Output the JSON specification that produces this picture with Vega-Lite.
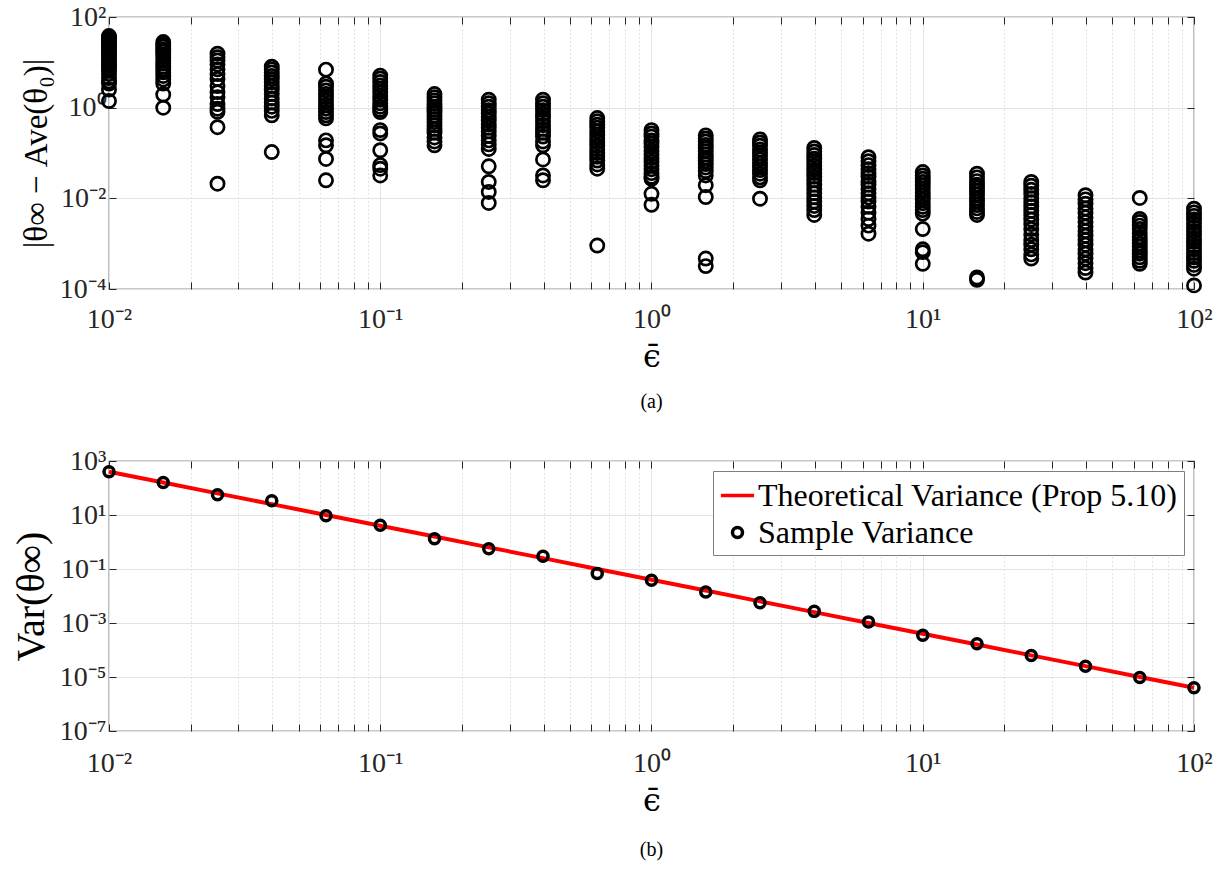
{
"$schema": "https://vega.github.io/schema/vega-lite/v6.json",
"padding": {"left": 10, "top": 2, "right": 10, "bottom": 2},
"config": {
 "font": "Liberation Serif",
 "view": {"stroke": "#262626", "strokeWidth": 1.2},
 "axis": {"labelFont": "Liberation Serif", "titleFont": "Liberation Serif", "labelColor": "#262626", "titleColor": "#000000", "titleFontWeight": "normal", "tickColor": "#262626", "labelOverlap": false, "labelFlush": false},
 "legend": {"labelFont": "Liberation Serif", "labelLimit": 1000}
},
"resolve": {"scale": {"color": "independent", "shape": "independent"}, "legend": {"color": "independent", "shape": "independent"}},
"datasets": {
"a": [
{"e":0.01,"d":38},{"e":0.01,"d":36},{"e":0.01,"d":33},{"e":0.01,"d":30},{"e":0.01,"d":27},{"e":0.01,"d":25},{"e":0.01,"d":22},{"e":0.01,"d":20},{"e":0.01,"d":18},{"e":0.01,"d":16},{"e":0.01,"d":14},{"e":0.01,"d":12.5},{"e":0.01,"d":11},{"e":0.01,"d":9.5},{"e":0.01,"d":8.5},{"e":0.01,"d":7.5},{"e":0.01,"d":6.5},{"e":0.01,"d":5.5},{"e":0.01,"d":4.5},{"e":0.01,"d":3.8},{"e":0.01,"d":3.4},{"e":0.01,"d":2.5},{"e":0.01,"d":1.4},
{"e":0.015849,"d":28},{"e":0.015849,"d":25},{"e":0.015849,"d":22},{"e":0.015849,"d":19},{"e":0.015849,"d":17},{"e":0.015849,"d":15},{"e":0.015849,"d":13},{"e":0.015849,"d":11},{"e":0.015849,"d":9.5},{"e":0.015849,"d":8},{"e":0.015849,"d":7},{"e":0.015849,"d":6},{"e":0.015849,"d":5},{"e":0.015849,"d":4.2},{"e":0.015849,"d":3.4},{"e":0.015849,"d":1.95},{"e":0.015849,"d":1.0},
{"e":0.025119,"d":15.5},{"e":0.025119,"d":13},{"e":0.025119,"d":11},{"e":0.025119,"d":9},{"e":0.025119,"d":7},{"e":0.025119,"d":5.5},{"e":0.025119,"d":4.3},{"e":0.025119,"d":3},{"e":0.025119,"d":2.2},{"e":0.025119,"d":1.7},{"e":0.025119,"d":1.2},{"e":0.025119,"d":0.95},{"e":0.025119,"d":0.81},{"e":0.025119,"d":0.37},{"e":0.025119,"d":0.021},
{"e":0.039811,"d":8},{"e":0.039811,"d":7},{"e":0.039811,"d":6},{"e":0.039811,"d":5},{"e":0.039811,"d":4.3},{"e":0.039811,"d":3.6},{"e":0.039811,"d":3},{"e":0.039811,"d":2.5},{"e":0.039811,"d":2},{"e":0.039811,"d":1.6},{"e":0.039811,"d":1.3},{"e":0.039811,"d":1.05},{"e":0.039811,"d":0.85},{"e":0.039811,"d":0.68},{"e":0.039811,"d":0.105},
{"e":0.063096,"d":6.9},{"e":0.063096,"d":3.4},{"e":0.063096,"d":2.9},{"e":0.063096,"d":2.4},{"e":0.063096,"d":2.0},{"e":0.063096,"d":1.7},{"e":0.063096,"d":1.4},{"e":0.063096,"d":1.15},{"e":0.063096,"d":0.95},{"e":0.063096,"d":0.8},{"e":0.063096,"d":0.68},{"e":0.063096,"d":0.58},{"e":0.063096,"d":0.19},{"e":0.063096,"d":0.148},{"e":0.063096,"d":0.074},{"e":0.063096,"d":0.025},
{"e":0.1,"d":5.1},{"e":0.1,"d":4.4},{"e":0.1,"d":3.7},{"e":0.1,"d":3.1},{"e":0.1,"d":2.6},{"e":0.1,"d":2.2},{"e":0.1,"d":1.8},{"e":0.1,"d":1.5},{"e":0.1,"d":1.25},{"e":0.1,"d":1.05},{"e":0.1,"d":0.9},{"e":0.1,"d":0.8},{"e":0.1,"d":0.32},{"e":0.1,"d":0.27},{"e":0.1,"d":0.115},{"e":0.1,"d":0.054},{"e":0.1,"d":0.045},{"e":0.1,"d":0.032},
{"e":0.15849,"d":2.0},{"e":0.15849,"d":1.7},{"e":0.15849,"d":1.45},{"e":0.15849,"d":1.25},{"e":0.15849,"d":1.05},{"e":0.15849,"d":0.9},{"e":0.15849,"d":0.78},{"e":0.15849,"d":0.66},{"e":0.15849,"d":0.56},{"e":0.15849,"d":0.48},{"e":0.15849,"d":0.41},{"e":0.15849,"d":0.34},{"e":0.15849,"d":0.28},{"e":0.15849,"d":0.22},{"e":0.15849,"d":0.18},{"e":0.15849,"d":0.148},
{"e":0.25119,"d":1.5},{"e":0.25119,"d":1.25},{"e":0.25119,"d":1.05},{"e":0.25119,"d":0.88},{"e":0.25119,"d":0.74},{"e":0.25119,"d":0.62},{"e":0.25119,"d":0.52},{"e":0.25119,"d":0.43},{"e":0.25119,"d":0.36},{"e":0.25119,"d":0.3},{"e":0.25119,"d":0.24},{"e":0.25119,"d":0.19},{"e":0.25119,"d":0.155},{"e":0.25119,"d":0.123},{"e":0.25119,"d":0.051},{"e":0.25119,"d":0.023},{"e":0.25119,"d":0.0138},{"e":0.25119,"d":0.0079},
{"e":0.39811,"d":1.5},{"e":0.39811,"d":1.25},{"e":0.39811,"d":1.05},{"e":0.39811,"d":0.88},{"e":0.39811,"d":0.72},{"e":0.39811,"d":0.6},{"e":0.39811,"d":0.5},{"e":0.39811,"d":0.41},{"e":0.39811,"d":0.34},{"e":0.39811,"d":0.28},{"e":0.39811,"d":0.23},{"e":0.39811,"d":0.18},{"e":0.39811,"d":0.148},{"e":0.39811,"d":0.072},{"e":0.39811,"d":0.032},{"e":0.39811,"d":0.025},
{"e":0.63096,"d":0.59},{"e":0.63096,"d":0.5},{"e":0.63096,"d":0.42},{"e":0.63096,"d":0.36},{"e":0.63096,"d":0.3},{"e":0.63096,"d":0.25},{"e":0.63096,"d":0.21},{"e":0.63096,"d":0.175},{"e":0.63096,"d":0.145},{"e":0.63096,"d":0.12},{"e":0.63096,"d":0.1},{"e":0.63096,"d":0.083},{"e":0.63096,"d":0.068},{"e":0.63096,"d":0.056},{"e":0.63096,"d":0.045},{"e":0.63096,"d":0.00091},
{"e":1,"d":0.32},{"e":1,"d":0.27},{"e":1,"d":0.23},{"e":1,"d":0.19},{"e":1,"d":0.16},{"e":1,"d":0.135},{"e":1,"d":0.11},{"e":1,"d":0.093},{"e":1,"d":0.077},{"e":1,"d":0.064},{"e":1,"d":0.053},{"e":1,"d":0.044},{"e":1,"d":0.036},{"e":1,"d":0.03},{"e":1,"d":0.027},{"e":1,"d":0.0126},{"e":1,"d":0.0072},
{"e":1.5849,"d":0.245},{"e":1.5849,"d":0.21},{"e":1.5849,"d":0.18},{"e":1.5849,"d":0.15},{"e":1.5849,"d":0.13},{"e":1.5849,"d":0.11},{"e":1.5849,"d":0.093},{"e":1.5849,"d":0.079},{"e":1.5849,"d":0.067},{"e":1.5849,"d":0.057},{"e":1.5849,"d":0.048},{"e":1.5849,"d":0.04},{"e":1.5849,"d":0.032},{"e":1.5849,"d":0.0195},{"e":1.5849,"d":0.0107},{"e":1.5849,"d":0.00047},{"e":1.5849,"d":0.00032},
{"e":2.5119,"d":0.2},{"e":2.5119,"d":0.17},{"e":2.5119,"d":0.145},{"e":2.5119,"d":0.12},{"e":2.5119,"d":0.1},{"e":2.5119,"d":0.085},{"e":2.5119,"d":0.072},{"e":2.5119,"d":0.06},{"e":2.5119,"d":0.05},{"e":2.5119,"d":0.042},{"e":2.5119,"d":0.035},{"e":2.5119,"d":0.029},{"e":2.5119,"d":0.025},{"e":2.5119,"d":0.0098},
{"e":3.9811,"d":0.129},{"e":3.9811,"d":0.108},{"e":3.9811,"d":0.09},{"e":3.9811,"d":0.075},{"e":3.9811,"d":0.063},{"e":3.9811,"d":0.052},{"e":3.9811,"d":0.043},{"e":3.9811,"d":0.036},{"e":3.9811,"d":0.03},{"e":3.9811,"d":0.025},{"e":3.9811,"d":0.02},{"e":3.9811,"d":0.016},{"e":3.9811,"d":0.013},{"e":3.9811,"d":0.0105},{"e":3.9811,"d":0.0085},{"e":3.9811,"d":0.0068},{"e":3.9811,"d":0.0055},{"e":3.9811,"d":0.0043},
{"e":6.3096,"d":0.081},{"e":6.3096,"d":0.066},{"e":6.3096,"d":0.054},{"e":6.3096,"d":0.044},{"e":6.3096,"d":0.036},{"e":6.3096,"d":0.03},{"e":6.3096,"d":0.024},{"e":6.3096,"d":0.02},{"e":6.3096,"d":0.016},{"e":6.3096,"d":0.013},{"e":6.3096,"d":0.0105},{"e":6.3096,"d":0.0085},{"e":6.3096,"d":0.0065},{"e":6.3096,"d":0.0048},{"e":6.3096,"d":0.0035},{"e":6.3096,"d":0.0025},{"e":6.3096,"d":0.00166},
{"e":10,"d":0.038},{"e":10,"d":0.032},{"e":10,"d":0.027},{"e":10,"d":0.023},{"e":10,"d":0.019},{"e":10,"d":0.016},{"e":10,"d":0.0135},{"e":10,"d":0.0113},{"e":10,"d":0.0094},{"e":10,"d":0.0078},{"e":10,"d":0.0065},{"e":10,"d":0.0055},{"e":10,"d":0.0046},{"e":10,"d":0.0021},{"e":10,"d":0.00075},{"e":10,"d":0.00065},{"e":10,"d":0.00036},
{"e":15.849,"d":0.035},{"e":15.849,"d":0.029},{"e":15.849,"d":0.024},{"e":15.849,"d":0.02},{"e":15.849,"d":0.017},{"e":15.849,"d":0.0145},{"e":15.849,"d":0.012},{"e":15.849,"d":0.01},{"e":15.849,"d":0.0085},{"e":15.849,"d":0.0071},{"e":15.849,"d":0.006},{"e":15.849,"d":0.005},{"e":15.849,"d":0.0043},{"e":15.849,"d":0.00018},{"e":15.849,"d":0.00016},
{"e":25.119,"d":0.023},{"e":25.119,"d":0.019},{"e":25.119,"d":0.0155},{"e":25.119,"d":0.0125},{"e":25.119,"d":0.01},{"e":25.119,"d":0.0082},{"e":25.119,"d":0.0066},{"e":25.119,"d":0.0053},{"e":25.119,"d":0.0043},{"e":25.119,"d":0.0034},{"e":25.119,"d":0.0027},{"e":25.119,"d":0.0021},{"e":25.119,"d":0.0016},{"e":25.119,"d":0.0012},{"e":25.119,"d":0.00095},{"e":25.119,"d":0.00075},{"e":25.119,"d":0.00058},{"e":25.119,"d":0.00047},
{"e":39.811,"d":0.0117},{"e":39.811,"d":0.0095},{"e":39.811,"d":0.0076},{"e":39.811,"d":0.006},{"e":39.811,"d":0.0048},{"e":39.811,"d":0.0038},{"e":39.811,"d":0.003},{"e":39.811,"d":0.0024},{"e":39.811,"d":0.0019},{"e":39.811,"d":0.0015},{"e":39.811,"d":0.0012},{"e":39.811,"d":0.00095},{"e":39.811,"d":0.00075},{"e":39.811,"d":0.0006},{"e":39.811,"d":0.00047},{"e":39.811,"d":0.00037},{"e":39.811,"d":0.00029},{"e":39.811,"d":0.00023},
{"e":63.096,"d":0.0102},{"e":63.096,"d":0.0035},{"e":63.096,"d":0.003},{"e":63.096,"d":0.0025},{"e":63.096,"d":0.0021},{"e":63.096,"d":0.0017},{"e":63.096,"d":0.0014},{"e":63.096,"d":0.0012},{"e":63.096,"d":0.001},{"e":63.096,"d":0.00085},{"e":63.096,"d":0.0007},{"e":63.096,"d":0.0006},{"e":63.096,"d":0.0005},{"e":63.096,"d":0.00042},{"e":63.096,"d":0.00036},
{"e":100,"d":0.0059},{"e":100,"d":0.0049},{"e":100,"d":0.0041},{"e":100,"d":0.0034},{"e":100,"d":0.0028},{"e":100,"d":0.0023},{"e":100,"d":0.0019},{"e":100,"d":0.0016},{"e":100,"d":0.0013},{"e":100,"d":0.0011},{"e":100,"d":0.0009},{"e":100,"d":0.00075},{"e":100,"d":0.00062},{"e":100,"d":0.0005},{"e":100,"d":0.00042},{"e":100,"d":0.00034},{"e":100,"d":0.00028},{"e":100,"d":0.00012}
],
"b": [
{"e":0.01,"s":"Theoretical Variance (Prop 5.10)","v":400},{"e":0.015849,"s":"Theoretical Variance (Prop 5.10)","v":159.2},{"e":0.025119,"s":"Theoretical Variance (Prop 5.10)","v":63.4},{"e":0.039811,"s":"Theoretical Variance (Prop 5.10)","v":25.2},{"e":0.063096,"s":"Theoretical Variance (Prop 5.10)","v":10.05},{"e":0.1,"s":"Theoretical Variance (Prop 5.10)","v":4},{"e":0.15849,"s":"Theoretical Variance (Prop 5.10)","v":1.592},{"e":0.25119,"s":"Theoretical Variance (Prop 5.10)","v":0.634},{"e":0.39811,"s":"Theoretical Variance (Prop 5.10)","v":0.252},{"e":0.63096,"s":"Theoretical Variance (Prop 5.10)","v":0.1005},{"e":1,"s":"Theoretical Variance (Prop 5.10)","v":0.04},{"e":1.5849,"s":"Theoretical Variance (Prop 5.10)","v":0.01592},{"e":2.5119,"s":"Theoretical Variance (Prop 5.10)","v":0.00634},{"e":3.9811,"s":"Theoretical Variance (Prop 5.10)","v":0.00252},{"e":6.3096,"s":"Theoretical Variance (Prop 5.10)","v":0.001005},{"e":10,"s":"Theoretical Variance (Prop 5.10)","v":0.0004},{"e":15.849,"s":"Theoretical Variance (Prop 5.10)","v":0.0001592},{"e":25.119,"s":"Theoretical Variance (Prop 5.10)","v":0.0000634},{"e":39.811,"s":"Theoretical Variance (Prop 5.10)","v":0.0000252},{"e":63.096,"s":"Theoretical Variance (Prop 5.10)","v":0.00001005},{"e":100,"s":"Theoretical Variance (Prop 5.10)","v":0.000004},
{"e":0.01,"s":"Sample Variance","v":400},{"e":0.015849,"s":"Sample Variance","v":160},{"e":0.025119,"s":"Sample Variance","v":56},{"e":0.039811,"s":"Sample Variance","v":34},{"e":0.063096,"s":"Sample Variance","v":9.3},{"e":0.1,"s":"Sample Variance","v":4.2},{"e":0.15849,"s":"Sample Variance","v":1.32},{"e":0.25119,"s":"Sample Variance","v":0.56},{"e":0.39811,"s":"Sample Variance","v":0.295},{"e":0.63096,"s":"Sample Variance","v":0.068},{"e":1,"s":"Sample Variance","v":0.038},{"e":1.5849,"s":"Sample Variance","v":0.0141},{"e":2.5119,"s":"Sample Variance","v":0.0056},{"e":3.9811,"s":"Sample Variance","v":0.0027},{"e":6.3096,"s":"Sample Variance","v":0.0011},{"e":10,"s":"Sample Variance","v":0.00035},{"e":15.849,"s":"Sample Variance","v":0.00017},{"e":25.119,"s":"Sample Variance","v":0.000063},{"e":39.811,"s":"Sample Variance","v":0.000025},{"e":63.096,"s":"Sample Variance","v":0.0000095},{"e":100,"s":"Sample Variance","v":0.000004}
]
},
"bounds": "flush",
"spacing": 172,
"vconcat": [
{
 "width": 1085, "height": 272,
 "title": {"text": "(a)", "orient": "bottom", "anchor": "middle", "fontSize": 20, "fontWeight": "normal", "font": "Liberation Serif", "color": "#000000", "offset": 20},
 "data": {"name": "a"},
 "resolve": {"axis": {"x": "independent", "y": "independent"}},
 "layer": [
  {
   "mark": {"type": "point", "shape": "circle", "filled": false, "size": 175, "strokeWidth": 2.7, "color": "#000000", "opacity": 1},
   "encoding": {
    "x": {"field": "e", "type": "quantitative", "scale": {"type": "log", "domain": [0.01, 100], "nice": false},
     "axis": {"orient": "bottom", "title": "\u03f5\u0304", "titleFont": "DejaVu Serif", "titleFontSize": 32, "titlePadding": 8,
      "values": [0.01,0.02,0.03,0.04,0.05,0.06,0.07,0.08,0.09,0.1,0.2,0.3,0.4,0.5,0.6,0.7,0.8,0.9,1,2,3,4,5,6,7,8,9,10,20,30,40,50,60,70,80,90,100],
      "labelExpr": "abs(log(datum.value)/LN10 - round(log(datum.value)/LN10)) > 0.01 ? '' : '10' + (round(log(datum.value)/LN10) < 0 ? '\u207b' : '') + substring('\u2070\u00b9\u00b2\u00b3\u2074\u2075\u2076\u2077\u2078\u2079', abs(round(log(datum.value)/LN10)), abs(round(log(datum.value)/LN10)) + 1)",
      "labelFont": "Liberation Serif", "labelFontSize": 28, "labelPadding": 23, "tickSize": -7, "domain": false,
      "grid": true, "gridWidth": 1,
      "gridColor": {"condition": {"test": "abs(log(datum.value)/LN10 - round(log(datum.value)/LN10)) > 0.01", "value": "#c9c9c9"}, "value": "#e2e2e2"},
      "gridDash": {"condition": {"test": "abs(log(datum.value)/LN10 - round(log(datum.value)/LN10)) > 0.01", "value": [1, 3]}, "value": []}}},
    "y": {"field": "d", "type": "quantitative", "scale": {"type": "log", "domain": [0.0001, 100], "nice": false},
     "axis": {"orient": "left", "title": "|\u03b8\u221e \u2212 Ave(\u03b8\u2080)|", "titleFont": "Liberation Serif", "titleFontSize": 33, "titlePadding": 6,
      "values": [0.0001, 0.01, 1, 100],
      "labelExpr": "'10' + (round(log(datum.value)/LN10) < 0 ? '\u207b' : '') + substring('\u2070\u00b9\u00b2\u00b3\u2074\u2075\u2076\u2077\u2078\u2079', abs(round(log(datum.value)/LN10)), abs(round(log(datum.value)/LN10)) + 1)",
      "labelFont": "Liberation Serif", "labelFontSize": 28, "labelPadding": 10, "tickSize": -7, "domain": false, "grid": true, "gridColor": "#e2e2e2", "gridWidth": 1}}
   }
  },
  {
   "mark": {"type": "point", "shape": "circle", "filled": false, "size": 10, "opacity": 0},
   "encoding": {
    "x": {"field": "e", "type": "quantitative", "scale": {"type": "log", "domain": [0.01, 100], "nice": false},
     "axis": {"orient": "top", "title": null, "labels": false, "grid": false, "domain": false, "tickSize": -7,
      "values": [0.01,0.02,0.03,0.04,0.05,0.06,0.07,0.08,0.09,0.1,0.2,0.3,0.4,0.5,0.6,0.7,0.8,0.9,1,2,3,4,5,6,7,8,9,10,20,30,40,50,60,70,80,90,100]}},
    "y": {"field": "d", "type": "quantitative", "scale": {"type": "log", "domain": [0.0001, 100], "nice": false},
     "axis": {"orient": "right", "title": null, "labels": false, "grid": false, "domain": false, "tickSize": -7, "values": [0.0001, 0.01, 1, 100]}}
   }
  }
 ]
},
{
 "width": 1085, "height": 270,
 "title": {"text": "(b)", "orient": "bottom", "anchor": "middle", "fontSize": 20, "fontWeight": "normal", "font": "Liberation Serif", "color": "#000000", "offset": 24},
 "data": {"name": "b"},
 "resolve": {"axis": {"x": "independent", "y": "independent"}},
 "layer": [
  {
   "transform": [{"filter": "datum.s === 'Theoretical Variance (Prop 5.10)'"}],
   "mark": {"type": "line", "strokeWidth": 4},
   "encoding": {
    "x": {"field": "e", "type": "quantitative", "scale": {"type": "log", "domain": [0.01, 100], "nice": false},
     "axis": {"orient": "bottom", "title": "\u03f5\u0304", "titleFont": "DejaVu Serif", "titleFontSize": 32, "titlePadding": 8,
      "values": [0.01,0.02,0.03,0.04,0.05,0.06,0.07,0.08,0.09,0.1,0.2,0.3,0.4,0.5,0.6,0.7,0.8,0.9,1,2,3,4,5,6,7,8,9,10,20,30,40,50,60,70,80,90,100],
      "labelExpr": "abs(log(datum.value)/LN10 - round(log(datum.value)/LN10)) > 0.01 ? '' : '10' + (round(log(datum.value)/LN10) < 0 ? '\u207b' : '') + substring('\u2070\u00b9\u00b2\u00b3\u2074\u2075\u2076\u2077\u2078\u2079', abs(round(log(datum.value)/LN10)), abs(round(log(datum.value)/LN10)) + 1)",
      "labelFont": "Liberation Serif", "labelFontSize": 28, "labelPadding": 25, "tickSize": -7, "domain": false,
      "grid": true, "gridWidth": 1,
      "gridColor": {"condition": {"test": "abs(log(datum.value)/LN10 - round(log(datum.value)/LN10)) > 0.01", "value": "#c9c9c9"}, "value": "#e2e2e2"},
      "gridDash": {"condition": {"test": "abs(log(datum.value)/LN10 - round(log(datum.value)/LN10)) > 0.01", "value": [1, 3]}, "value": []}}},
    "y": {"field": "v", "type": "quantitative", "scale": {"type": "log", "domain": [0.0000001, 1000], "nice": false},
     "axis": {"orient": "left", "title": "Var(\u03b8\u221e)", "titleFont": "Liberation Serif", "titleFontSize": 40, "titlePadding": 8,
      "values": [0.0000001, 0.00001, 0.001, 0.1, 10, 1000],
      "labelExpr": "'10' + (round(log(datum.value)/LN10) < 0 ? '\u207b' : '') + substring('\u2070\u00b9\u00b2\u00b3\u2074\u2075\u2076\u2077\u2078\u2079', abs(round(log(datum.value)/LN10)), abs(round(log(datum.value)/LN10)) + 1)",
      "labelFont": "Liberation Serif", "labelFontSize": 28, "labelPadding": 10, "tickSize": -7, "domain": false, "grid": true, "gridColor": "#e2e2e2", "gridWidth": 1}},
    "color": {"field": "s", "type": "nominal",
     "scale": {"domain": ["Theoretical Variance (Prop 5.10)", "Sample Variance"], "range": ["#ff0000", "#000000"]},
     "legend": {"title": null, "orient": "top-right", "offset": 10, "fillColor": "#ffffff", "strokeColor": "#7f7f7f", "padding": 6,
      "labelFont": "Liberation Serif", "labelFontSize": 32, "labelColor": "#000000", "labelLimit": 1000, "symbolStrokeWidth": 3.5, "symbolSize": 1100, "rowPadding": 2, "labelOffset": 2,
      "encode": {"symbols": {"update": {"size": {"signal": "datum.value === 'Sample Variance' ? 100 : 1100"}}}}}}
   }
  },
  {
   "transform": [{"filter": "datum.s === 'Sample Variance'"}],
   "mark": {"type": "point", "filled": false, "size": 100, "strokeWidth": 3.5, "opacity": 1},
   "encoding": {
    "x": {"field": "e", "type": "quantitative", "scale": {"type": "log", "domain": [0.01, 100], "nice": false},
     "axis": {"orient": "top", "title": null, "labels": false, "grid": false, "domain": false, "tickSize": -7,
      "values": [0.01,0.02,0.03,0.04,0.05,0.06,0.07,0.08,0.09,0.1,0.2,0.3,0.4,0.5,0.6,0.7,0.8,0.9,1,2,3,4,5,6,7,8,9,10,20,30,40,50,60,70,80,90,100]}},
    "y": {"field": "v", "type": "quantitative", "scale": {"type": "log", "domain": [0.0000001, 1000], "nice": false},
     "axis": {"orient": "right", "title": null, "labels": false, "grid": false, "domain": false, "tickSize": -7, "values": [0.0000001, 0.00001, 0.001, 0.1, 10, 1000]}},
    "color": {"field": "s", "type": "nominal",
     "scale": {"domain": ["Theoretical Variance (Prop 5.10)", "Sample Variance"], "range": ["#ff0000", "#000000"]},
     "legend": {"title": null, "orient": "top-right", "offset": 10, "fillColor": "#ffffff", "strokeColor": "#7f7f7f", "padding": 6,
      "labelFont": "Liberation Serif", "labelFontSize": 32, "labelColor": "#000000", "labelLimit": 1000, "symbolStrokeWidth": 3.5, "symbolSize": 1100, "rowPadding": 2, "labelOffset": 2,
      "encode": {"symbols": {"update": {"size": {"signal": "datum.value === 'Sample Variance' ? 100 : 1100"}}}}}},
    "shape": {"field": "s", "type": "nominal",
     "scale": {"domain": ["Theoretical Variance (Prop 5.10)", "Sample Variance"], "range": ["stroke", "circle"]},
     "legend": {"title": null, "orient": "top-right", "offset": 10, "fillColor": "#ffffff", "strokeColor": "#7f7f7f", "padding": 6,
      "labelFont": "Liberation Serif", "labelFontSize": 32, "labelColor": "#000000", "labelLimit": 1000, "symbolStrokeWidth": 3.5, "symbolSize": 1100, "rowPadding": 2, "labelOffset": 2,
      "encode": {"symbols": {"update": {"size": {"signal": "datum.value === 'Sample Variance' ? 100 : 1100"}}}}}}
   }
  }
 ]
}
]
}
